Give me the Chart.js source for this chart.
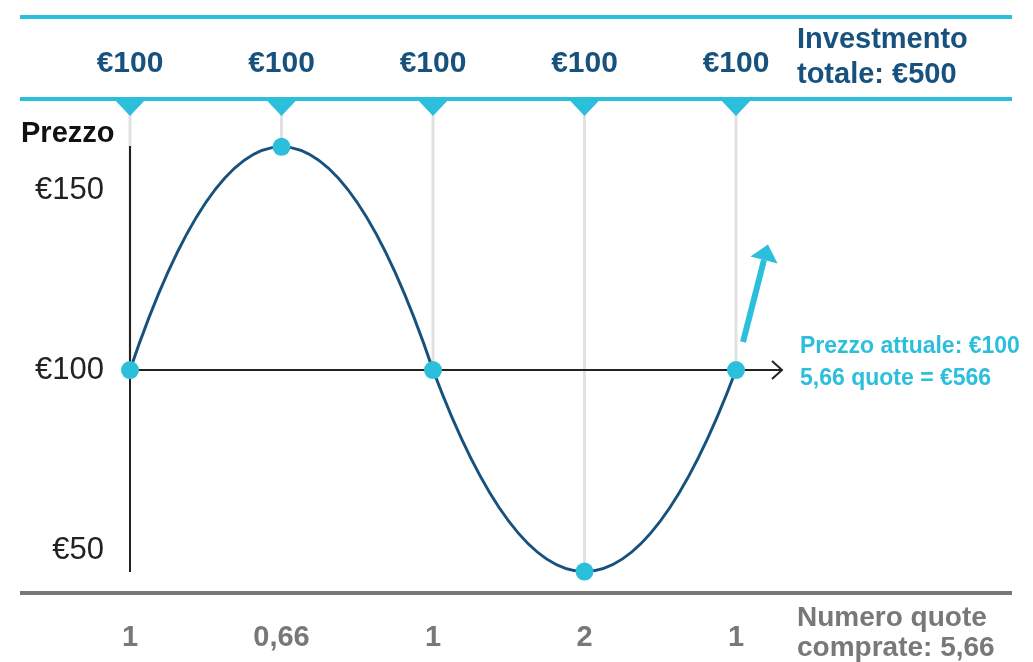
<!DOCTYPE html>
<html>
<head>
<meta charset="utf-8">
<script src="https://cdn.jsdelivr.net/npm/chart.js@4/dist/chart.umd.min.js"></script>
<style>
  html, body { margin: 0; padding: 0; background: #fff; }
</style>
</head>
<body>
<canvas id="grafico" width="1033" height="662"></canvas>
<script>
// dati
const mesi = ['1', '2', '3', '4', '5']
const prezzi = [100, 162, 100, 44, 100]
const investimenti = [100, 100, 100, 100, 100]
const quote = [1, 0.66, 1, 2, 1]
const tickPrezzo = [50, 100, 150]

const TEAL = '#2bbfdc'
const BLU = '#17527f'
const GRIGIO = '#787878'
const FONT = '"Liberation Sans", Arial, sans-serif'

const virgola = v => String(Number(v.toFixed(2))).replace('.', ',')

// curva ad archi di parabola: vertice sui massimi/minimi
const archi = {
  id: 'archi',
  beforeDatasetDraw(chart, args) {
    const meta = args.meta
    meta.dataset.updateControlPoints(chart.chartArea, meta.iScale.axis)
    const pts = meta.data
    const base = prezzi[0]
    for (let i = 0; i < pts.length - 1; i++) {
      const a = pts[i], b = pts[i + 1]
      const dx = b.x - a.x
      if (Math.abs(prezzi[i + 1] - base) >= Math.abs(prezzi[i] - base)) {
        a.cp2x = a.x + dx / 3
        a.cp2y = a.y + 2 * (b.y - a.y) / 3
        b.cp1x = b.x - dx / 3
        b.cp1y = b.y
      } else {
        a.cp2x = a.x + dx / 3
        a.cp2y = a.y
        b.cp1x = b.x - dx / 3
        b.cp1y = b.y + 2 * (a.y - b.y) / 3
      }
    }
  }
}

// decorazioni: linee, triangoli, testi
const decorazioni = {
  id: 'decorazioni',
  beforeDatasetsDraw(chart) {
    const ctx = chart.ctx
    const x = chart.scales.x
    const y = chart.scales.y
    const y100 = y.getPixelForValue(100)
    ctx.save()

    // linee grigie verticali dai triangoli ai punti
    ctx.strokeStyle = '#e1e1e1'
    ctx.lineWidth = 3
    prezzi.forEach((p, i) => {
      const px = x.getPixelForValue(i)
      ctx.beginPath()
      ctx.moveTo(px, 114)
      ctx.lineTo(px, y.getPixelForValue(p))
      ctx.stroke()
    })

    // asse y
    ctx.strokeStyle = '#222'
    ctx.lineWidth = 2
    const x0 = x.getPixelForValue(0)
    ctx.beginPath()
    ctx.moveTo(x0, 146)
    ctx.lineTo(x0, 572)
    ctx.stroke()

    // asse orizzontale a €100 con freccia
    ctx.beginPath()
    ctx.moveTo(x0, y100)
    ctx.lineTo(782, y100)
    ctx.stroke()
    ctx.beginPath()
    ctx.moveTo(772, y100 - 9)
    ctx.lineTo(782, y100)
    ctx.lineTo(772, y100 + 9)
    ctx.stroke()

    ctx.restore()
  },
  afterDraw(chart) {
    const ctx = chart.ctx
    const x = chart.scales.x
    const y = chart.scales.y
    const y100 = y.getPixelForValue(100)
    const ultimo = x.getPixelForValue(prezzi.length - 1)
    ctx.save()

    // linee azzurre in alto
    ctx.strokeStyle = TEAL
    ctx.lineWidth = 4
    ;[17, 99].forEach(ly => {
      ctx.beginPath()
      ctx.moveTo(20, ly)
      ctx.lineTo(1012, ly)
      ctx.stroke()
    })

    // triangoli
    ctx.fillStyle = TEAL
    investimenti.forEach((v, i) => {
      const px = x.getPixelForValue(i)
      ctx.beginPath()
      ctx.moveTo(px - 16, 99)
      ctx.lineTo(px + 16, 99)
      ctx.lineTo(px, 116)
      ctx.closePath()
      ctx.fill()
    })

    // importi investiti
    ctx.fillStyle = BLU
    ctx.font = 'bold 30px ' + FONT
    ctx.textAlign = 'center'
    ctx.textBaseline = 'middle'
    investimenti.forEach((v, i) => {
      ctx.fillText('€' + v, x.getPixelForValue(i), 64)
    })
    const totale = investimenti.reduce((a, b) => a + b, 0)
    ctx.textAlign = 'left'
    ctx.font = 'bold 29px ' + FONT
    ctx.fillText('Investmento', 797, 40)
    ctx.fillText('totale: €' + totale, 797, 75)

    // titolo asse
    ctx.fillStyle = '#111'
    ctx.font = 'bold 29px ' + FONT
    ctx.fillText('Prezzo', 21, 134)

    // freccia azzurra
    ctx.strokeStyle = TEAL
    ctx.fillStyle = TEAL
    ctx.lineWidth = 6
    const ax = ultimo + 7, ay = y100 - 28
    const bx = ultimo + 28, by = y100 - 110
    ctx.beginPath()
    ctx.moveTo(ax, ay)
    ctx.lineTo(bx, by)
    ctx.stroke()
    const ang = Math.atan2(by - ay, bx - ax)
    const tx = bx + 16 * Math.cos(ang), ty = by + 16 * Math.sin(ang)
    ctx.beginPath()
    ctx.moveTo(tx, ty)
    ctx.lineTo(bx + 14 * Math.cos(ang + Math.PI / 2), by + 14 * Math.sin(ang + Math.PI / 2))
    ctx.lineTo(bx + 14 * Math.cos(ang - Math.PI / 2), by + 14 * Math.sin(ang - Math.PI / 2))
    ctx.closePath()
    ctx.fill()

    // testo prezzo attuale
    const totQuote = quote.reduce((a, b) => a + b, 0)
    const attuale = prezzi[prezzi.length - 1]
    ctx.font = 'bold 23px ' + FONT
    ctx.fillText('Prezzo attuale: €' + attuale, 800, 347)
    ctx.fillText(virgola(totQuote) + ' quote = €' + Math.round(totQuote * attuale), 800, 379)

    // linea grigia in basso
    ctx.strokeStyle = GRIGIO
    ctx.lineWidth = 4
    ctx.beginPath()
    ctx.moveTo(20, 593)
    ctx.lineTo(1012, 593)
    ctx.stroke()

    // quote comprate
    ctx.fillStyle = GRIGIO
    ctx.font = 'bold 29px ' + FONT
    ctx.textAlign = 'center'
    quote.forEach((q, i) => {
      ctx.fillText(virgola(q), x.getPixelForValue(i), 638)
    })
    ctx.textAlign = 'left'
    ctx.font = 'bold 28px ' + FONT
    ctx.fillText('Numero quote', 797, 618)
    ctx.fillText('comprate: ' + virgola(totQuote), 797, 648)

    ctx.restore()
  }
}

new Chart(document.getElementById('grafico'), {
  type: 'line',
  data: {
    labels: mesi,
    datasets: [{
      data: prezzi,
      borderColor: BLU,
      borderWidth: 3,
      cubicInterpolationMode: 'monotone',
      pointRadius: 9,
      pointBorderWidth: 0,
      pointBackgroundColor: TEAL,
      clip: false
    }]
  },
  options: {
    responsive: false,
    animation: false,
    devicePixelRatio: 1,
    layout: { padding: { top: 112, bottom: 69, left: 0, right: 297 } },
    plugins: { legend: { display: false }, tooltip: { enabled: false } },
    scales: {
      x: { display: false, offset: false },
      y: {
        min: 38.06,
        max: 171.67,
        afterFit: s => { s.width = 130 },
        afterBuildTicks: s => { s.ticks = tickPrezzo.map(v => ({ value: v })) },
        grid: { display: false, drawTicks: false },
        border: { display: false },
        ticks: {
          autoSkip: false,
          padding: 26,
          color: '#222',
          font: { family: FONT, size: 31 },
          callback: v => '€' + v
        }
      }
    }
  },
  plugins: [archi, decorazioni]
})
</script>
</body>
</html>
